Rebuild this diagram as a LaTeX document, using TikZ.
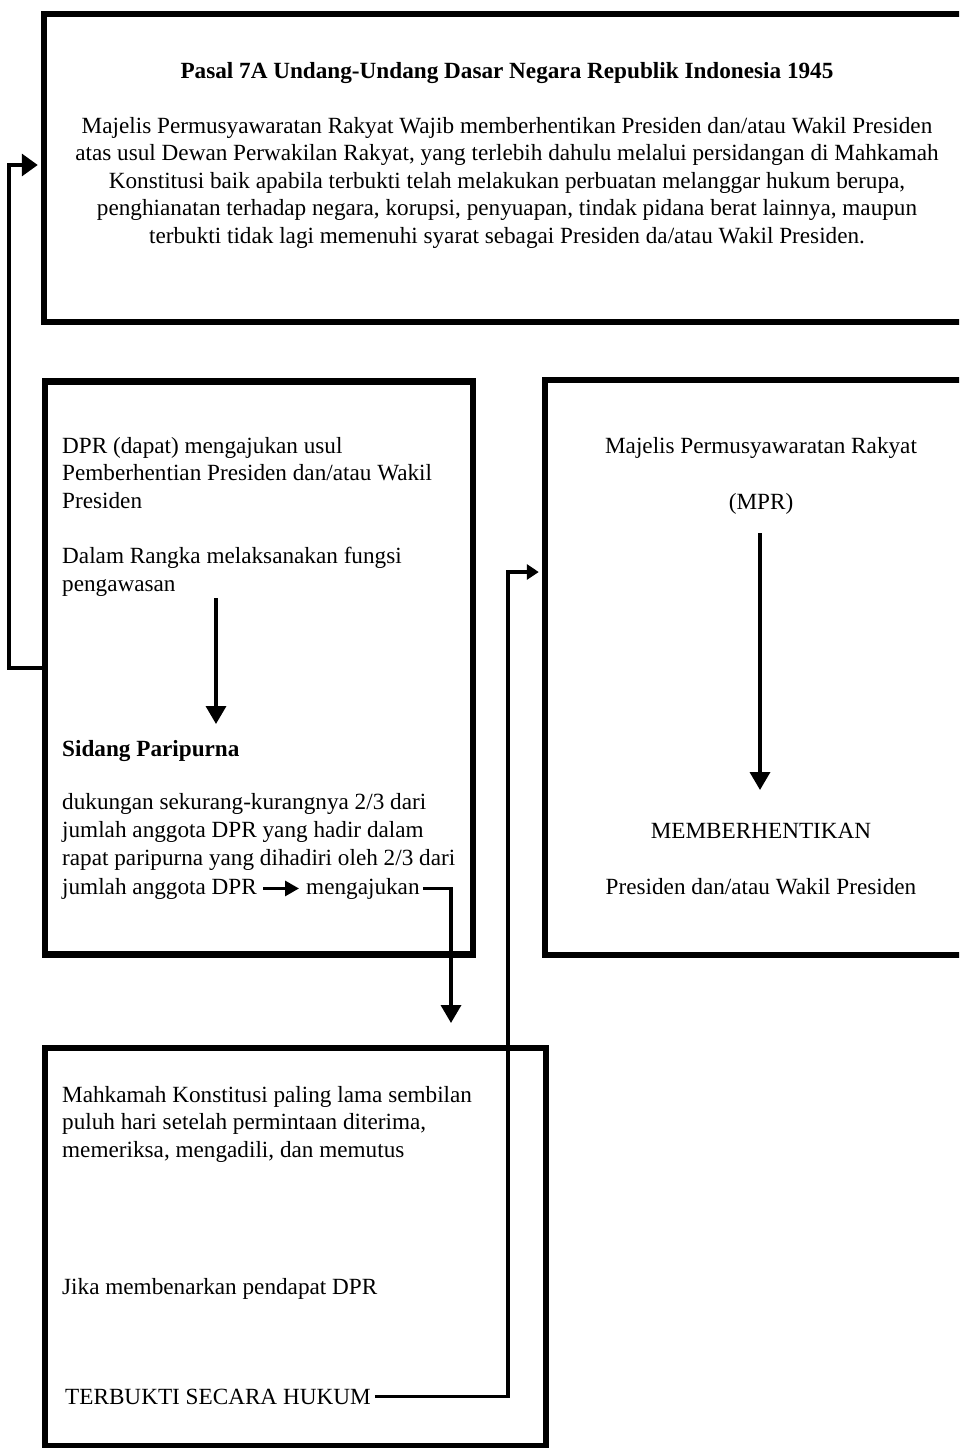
\documentclass[tikz,border=0pt]{standalone}
\usepackage{fontspec}
\setmainfont{Liberation Serif}
\usetikzlibrary{arrows.meta,calc}
\begin{document}
\begin{tikzpicture}[x=1pt,y=-1pt,
  panel/.style={draw, line width=6.5pt, rectangle, inner sep=0pt},
  body/.style={inner sep=0pt, font=\fontsize{23.2}{27.5}\selectfont},
  heading/.style={inner sep=0pt, font=\fontsize{23.2}{27.5}\selectfont\bfseries},
  flow/.style={line width=3.5pt, -{Triangle[width=20pt,length=18pt]}},
  back/.style={line width=3.5pt, -{Triangle[width=22pt,length=16pt]}},
  feed/.style={line width=3.5pt, -{Triangle[width=15pt,length=12pt]}},
  minor/.style={line width=3pt, -{Triangle[width=15pt,length=14pt]}},
]
\useasboundingbox (0,0) rectangle (959,1448);
\clip (0,0) rectangle (959,1448);
\fill[white] (0,0) rectangle (959,1448);

% the four boxes
\node[panel, minimum width=926pt, minimum height=308pt] (pasal) at (507,168) {};
\node[panel, minimum width=428pt, minimum height=573pt] (dpr) at (259,668) {};
\node[panel, minimum width=432pt, minimum height=575pt] (mpr) at (761,667.5) {};
\node[panel, minimum width=501pt, minimum height=398pt] (mk) at (295.5,1247) {};

% article text
\node[heading, anchor=base] (title) at (507,78)
  {Pasal 7A Undang-Undang Dasar Negara Republik Indonesia 1945};
\node[body, anchor=north, align=center] (pasaltext) at (507,117)
  {Majelis Permusyawaratan Rakyat Wajib memberhentikan Presiden dan/atau Wakil Presiden\\
   atas usul Dewan Perwakilan Rakyat, yang terlebih dahulu melalui persidangan di Mahkamah\\
   Konstitusi baik apabila terbukti telah melakukan perbuatan melanggar hukum berupa,\\
   penghianatan terhadap negara, korupsi, penyuapan, tindak pidana berat lainnya, maupun\\
   terbukti tidak lagi memenuhi syarat sebagai Presiden da/atau Wakil Presiden.};

% DPR box
\node[body, anchor=north west, align=left] (usul) at (62,437)
  {DPR (dapat) mengajukan usul\\Pemberhentian Presiden dan/atau Wakil\\Presiden};
\node[body, anchor=north west, align=left] (fungsi) at (62,547)
  {Dalam Rangka melaksanakan fungsi\\pengawasan};
\node[heading, anchor=base west] (sidang) at (62,756) {Sidang Paripurna};
\node[body, anchor=north west, align=left, font=\fontsize{23.2}{28.3}\selectfont] (dukungan) at (62,793)
  {dukungan sekurang-kurangnya 2/3 dari\\jumlah anggota DPR yang hadir dalam\\rapat paripurna yang dihadiri oleh 2/3 dari};
\node[body, anchor=base west] (anggota) at (62,894) {jumlah anggota DPR};
\node[body, anchor=base west] (ajukan) at ($(anggota.base east)+(49,0)$) {mengajukan};

% MPR box
\node[body, anchor=base] (mprname) at (761,453) {Majelis Permusyawaratan Rakyat};
\node[body, anchor=base] (mprabbr) at (761,509) {(MPR)};
\node[body, anchor=base] (stop) at (761,838) {MEMBERHENTIKAN};
\node[body, anchor=base] (who) at (761,894) {Presiden dan/atau Wakil Presiden};

% Mahkamah Konstitusi box
\node[body, anchor=north west, align=left] (mktext) at (62,1086)
  {Mahkamah Konstitusi paling lama sembilan\\puluh hari setelah permintaan diterima,\\memeriksa, mengadili, dan memutus};
\node[body, anchor=base west] (jika) at (62,1294) {Jika membenarkan pendapat DPR};
\node[body, anchor=base west] (terb) at (65,1404) {TERBUKTI SECARA HUKUM};

% connectors
\coordinate (d1) at (216,598);
\coordinate (d2) at (216,724);
\coordinate (m1) at (760,533);
\coordinate (m2) at (760,790);
\coordinate (mkin) at (451,1023);
\coordinate (bend) at (508,572);

\draw[flow] (d1) -- (d2);
\draw[flow] (m1) -- (m2);
\draw[minor, shorten <=6pt, shorten >=7pt] (anggota.east) -- (anggota.east -| ajukan.west);
\draw[flow] ([xshift=3pt]ajukan.east) -| (mkin);
\draw[back] (dpr.west) -- ++(-33,0) |- ($(pasal.west)+(-3,-3)$);
\draw[feed] ([xshift=4pt]terb.east) -| (bend) -- ($(bend -| mpr.west)+(-3,0)$);
\end{tikzpicture}
\end{document}
